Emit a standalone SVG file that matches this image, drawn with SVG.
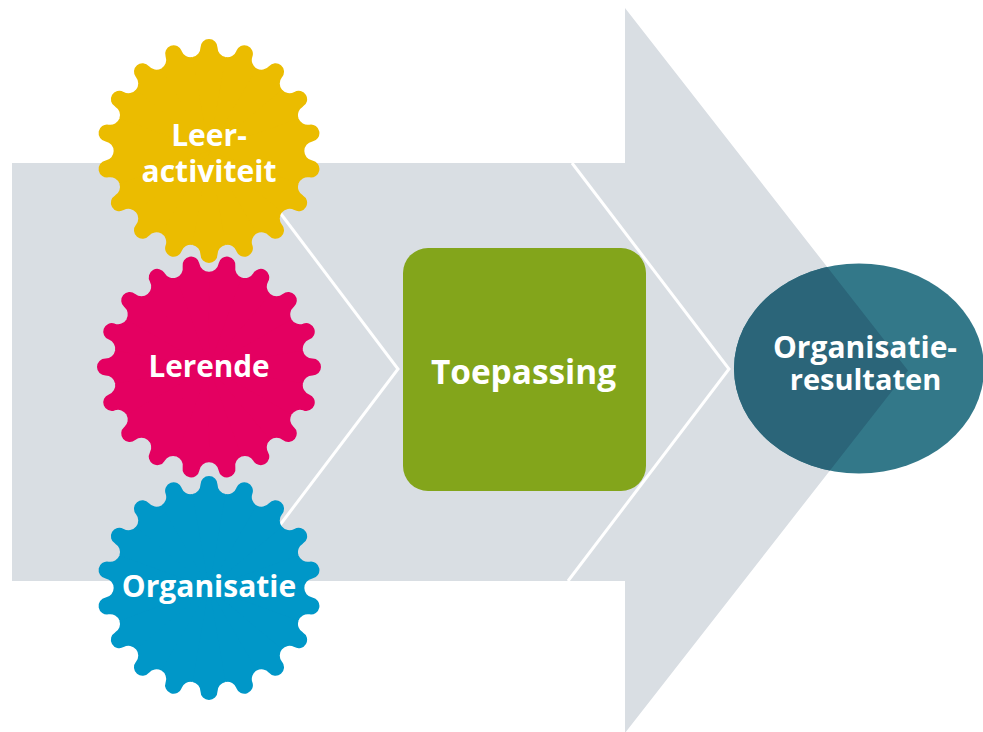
<svg xmlns="http://www.w3.org/2000/svg" xmlns:xlink="http://www.w3.org/1999/xlink" width="983" height="732" viewBox="0 0 983 732">
<style>
text{font-family:"Open Sans","Noto Sans","Liberation Sans",sans-serif;font-weight:700;fill:#fff;text-anchor:middle}
.chev{fill:none;stroke:#fff;stroke-width:3}
</style>
<defs>
<path id="t" d="M0 0L-16.5 -93.9A9.7 9.7 0 0 0 -8.5 -103.4L-8.5 -103.5A8.5 8.5 0 0 1 8.5 -103.5L8.5 -103.4A9.7 9.7 0 0 0 16.5 -93.9Z"/>
<g id="gear">
<circle r="95"/>
<use xlink:href="#t" href="#t"/>
<use xlink:href="#t" href="#t" transform="rotate(20)"/>
<use xlink:href="#t" href="#t" transform="rotate(40)"/>
<use xlink:href="#t" href="#t" transform="rotate(60)"/>
<use xlink:href="#t" href="#t" transform="rotate(80)"/>
<use xlink:href="#t" href="#t" transform="rotate(100)"/>
<use xlink:href="#t" href="#t" transform="rotate(120)"/>
<use xlink:href="#t" href="#t" transform="rotate(140)"/>
<use xlink:href="#t" href="#t" transform="rotate(160)"/>
<use xlink:href="#t" href="#t" transform="rotate(180)"/>
<use xlink:href="#t" href="#t" transform="rotate(200)"/>
<use xlink:href="#t" href="#t" transform="rotate(220)"/>
<use xlink:href="#t" href="#t" transform="rotate(240)"/>
<use xlink:href="#t" href="#t" transform="rotate(260)"/>
<use xlink:href="#t" href="#t" transform="rotate(280)"/>
<use xlink:href="#t" href="#t" transform="rotate(300)"/>
<use xlink:href="#t" href="#t" transform="rotate(320)"/>
<use xlink:href="#t" href="#t" transform="rotate(340)"/>
</g>
<clipPath id="ell"><ellipse cx="859" cy="368.5" rx="125" ry="105"/></clipPath>
<polygon id="arrow" points="12,163 625,163 625,8 908,370.5 625,733 625,581 12,581"/>
</defs>
<rect width="983" height="732" fill="#fff"/>
<use id="big-arrow" xlink:href="#arrow" href="#arrow" fill="#d9dee3"/>
<g id="connectors">
<polyline class="chev" points="278,210 398,369 280,525"/>
<polyline class="chev" points="572,163 729,369 568,581"/>
</g>
<g id="toepassing">
<rect x="403" y="248" width="243" height="243" rx="25" fill="#83a51b"/>
<text x="523.5" y="384" font-size="33.4">Toepassing</text>
</g>
<g id="organisatieresultaten">
<ellipse cx="859" cy="368.5" rx="125" ry="105" fill="#337889"/>
<use xlink:href="#arrow" href="#arrow" fill="#2b6579" clip-path="url(#ell)"/>
<text font-size="30"><tspan x="865" y="358">Organisatie-</tspan><tspan x="865.5" y="390" font-size="29">resultaten</tspan></text>
</g>
<g id="organisatie">
<use xlink:href="#gear" href="#gear" transform="translate(209 588)" fill="#0097c8"/>
<text x="209" y="597" font-size="30">Organisatie</text>
</g>
<g id="lerende">
<use xlink:href="#gear" href="#gear" transform="translate(209 367) rotate(10)" fill="#e40061"/>
<text x="209" y="377" font-size="29.7">Lerende</text>
</g>
<g id="leeractiviteit">
<use xlink:href="#gear" href="#gear" transform="translate(209 151)" fill="#ebbc00"/>
<text font-size="30"><tspan x="209" y="146">Leer-</tspan><tspan x="209" y="182">activiteit</tspan></text>
</g>
</svg>
